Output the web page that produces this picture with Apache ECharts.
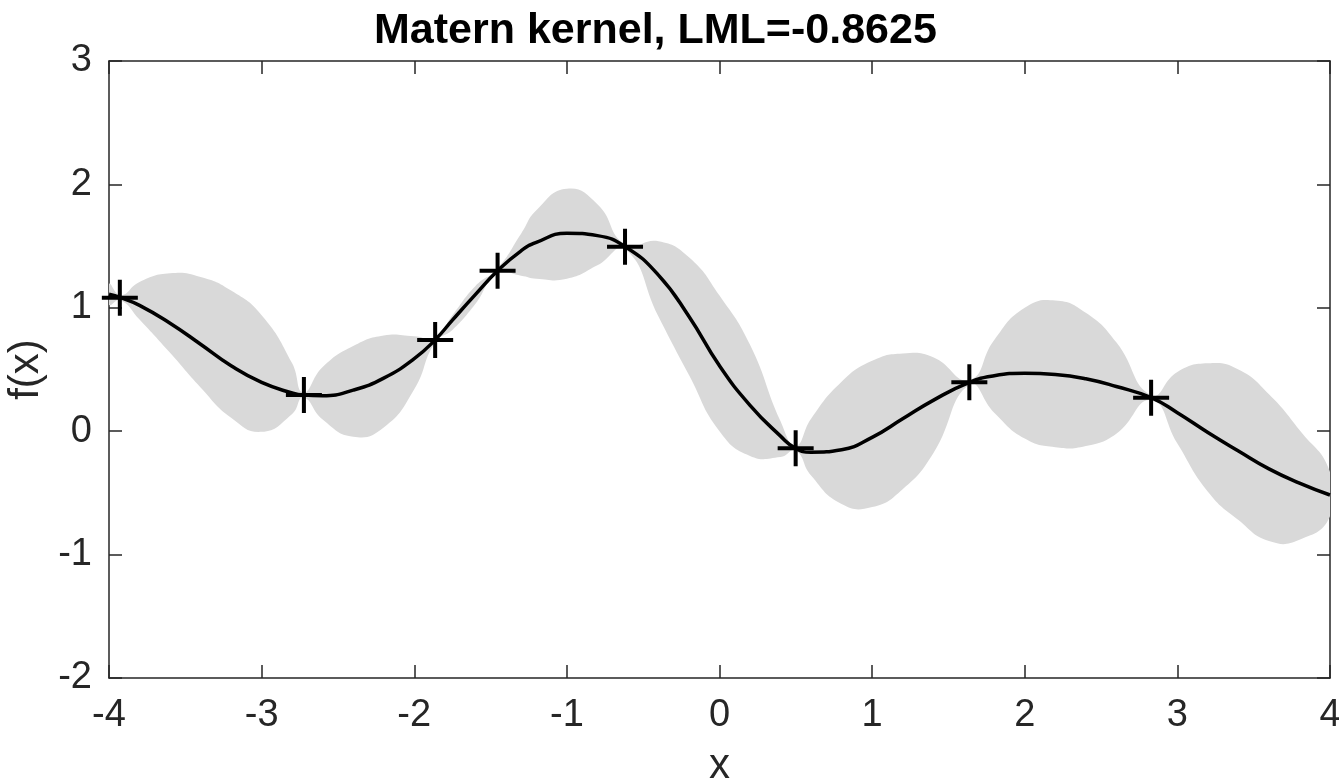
<!DOCTYPE html>
<html>
<head>
<meta charset="utf-8">
<script src="https://cdn.jsdelivr.net/npm/echarts@6/dist/echarts.min.js"></script>
<style>
  html, body { margin: 0; padding: 0; background: #fff; }
  #chart { width: 1339px; height: 778px; }
</style>
</head>
<body>
<div id="chart"></div>
<script>
// values
const xs = [-4.0, -3.924, -3.8, -3.6, -3.4, -3.2, -3.0, -2.8, -2.727, -2.6, -2.4, -2.2, -2.0, -1.864, -1.75, -1.6, -1.454, -1.3, -1.2, -1.0, -0.8, -0.617, -0.4, -0.2, 0.0, 0.2, 0.4, 0.499, 0.6, 0.8, 1.0, 1.2, 1.4, 1.637, 1.8, 2.0, 2.2, 2.4, 2.6, 2.828, 3.0, 3.2, 3.4, 3.6, 3.8, 4.0];
const meanF = [1.11, 1.082, 1.02, 0.875, 0.705, 0.53, 0.395, 0.31, 0.293, 0.288, 0.333, 0.43, 0.588, 0.739, 0.90, 1.107, 1.30, 1.462, 1.53, 1.605, 1.585, 1.495, 1.265, 0.93, 0.53, 0.21, -0.04, -0.139, -0.17, -0.15, -0.05, 0.10, 0.25, 0.396, 0.45, 0.47, 0.46, 0.425, 0.362, 0.272, 0.15, -0.01, -0.16, -0.305, -0.42, -0.517];
const lowerF = [1.025, 1.062, 0.905, 0.635, 0.355, 0.11, -0.005, 0.14, 0.273, 0.095, -0.045, 0.03, 0.34, 0.719, 0.82, 1.03, 1.28, 1.26, 1.235, 1.235, 1.344, 1.475, 0.93, 0.456, 0.0, -0.20, -0.21, -0.159, -0.36, -0.59, -0.615, -0.47, -0.18, 0.376, 0.15, -0.06, -0.13, -0.12, -0.02, 0.252, -0.10, -0.49, -0.72, -0.89, -0.88, -0.69];
const upperF = [1.195, 1.102, 1.21, 1.28, 1.25, 1.14, 0.94, 0.55, 0.313, 0.52, 0.69, 0.776, 0.77, 0.759, 0.94, 1.175, 1.32, 1.60, 1.79, 1.965, 1.84, 1.515, 1.54, 1.41, 1.10, 0.70, 0.08, -0.119, 0.10, 0.40, 0.57, 0.63, 0.60, 0.416, 0.74, 1.00, 1.06, 0.96, 0.72, 0.292, 0.48, 0.55, 0.50, 0.30, 0.01, -0.33];

// observed training points
const obsX = [-3.929, -2.723, -1.863, -1.454, -0.619, 0.499, 1.637, 2.828];
const obsY = [1.082, 0.293, 0.739, 1.30, 1.495, -0.139, 0.396, 0.272];

const xTicks = [-4, -3, -2, -1, 0, 1, 2, 3, 4];
const yTicks = [-2, -1, 0, 1, 2, 3];

const font = "'Liberation Sans', Arial, Helvetica, sans-serif";
const axisColor = '#262626';

const chart = echarts.init(document.getElementById('chart'));

const meanData = xs.map((x, i) => [x, meanF[i]]);
const obsData = obsX.map((x, i) => [x, obsY[i]]);

// plus marker, filled
const plus = 'path://M16,0H20V36H16Z M0,16H36V20H0Z';

// the confidence band as one smoothed polygon: upper edge left to right, lower edge back
function renderBand(params, api) {
  const top = xs.map((x, i) => api.coord([x, upperF[i]]));
  const bottom = xs.map((x, i) => api.coord([x, lowerF[i]])).reverse();
  const cs = params.coordSys;
  return {
    type: 'polygon',
    shape: { points: top.concat(bottom), smooth: 0.5 },
    style: { fill: '#d9d9d9', stroke: null },
    clipPath: { type: 'rect', shape: { x: cs.x, y: cs.y, width: cs.width, height: cs.height } },
    silent: true
  };
}

const axisCommon = {
  type: 'value',
  splitLine: { show: false },
  axisLine: { show: true, onZero: false, lineStyle: { color: axisColor, width: 1.5 } },
  axisTick: { show: true, inside: true, length: 13, lineStyle: { color: axisColor, width: 1.5 } }
};

const option = {
  animation: false,
  backgroundColor: '#fff',
  title: {
    text: 'Matern kernel, LML=-0.8625',
    left: 369,
    top: 5,
    textStyle: { fontFamily: font, fontSize: 43, fontWeight: 'bold', color: '#000' }
  },
  grid: { left: 109, right: 9, top: 61, bottom: 100, outerBoundsMode: 'none', containLabel: false },
  xAxis: [
    Object.assign({}, axisCommon, {
      position: 'bottom',
      min: -4, max: 4, interval: 1,
      name: 'x', nameLocation: 'middle', nameGap: 67,
      nameTextStyle: { fontFamily: font, fontSize: 42, color: axisColor },
      axisLabel: {
        margin: 19, fontFamily: font, fontSize: 38, color: axisColor,
        formatter: v => xTicks.includes(v) ? String(v) : ''
      }
    }),
    Object.assign({}, axisCommon, {
      position: 'top',
      min: -4, max: 4, interval: 1,
      axisLabel: { show: false }
    })
  ],
  yAxis: [
    Object.assign({}, axisCommon, {
      position: 'left',
      min: -2, max: 3, interval: 1,
      name: 'f(x)', nameLocation: 'middle', nameGap: 52,
      nameTextStyle: { fontFamily: font, fontSize: 42, color: axisColor },
      axisLabel: {
        margin: 17, fontFamily: font, fontSize: 38, color: axisColor,
        formatter: v => yTicks.includes(v) ? String(v) : ''
      }
    }),
    Object.assign({}, axisCommon, {
      position: 'right',
      min: -2, max: 3, interval: 1,
      axisLabel: { show: false }
    })
  ],
  series: [
    {
      type: 'custom',
      data: [[0, 0]],
      renderItem: renderBand,
      silent: true,
      z: 1
    },
    {
      type: 'line',
      data: meanData,
      symbol: 'none',
      smooth: 0.5,
      lineStyle: { color: '#000', width: 3.5 },
      z: 3
    },
    {
      type: 'scatter',
      data: obsData,
      symbol: plus,
      symbolSize: 36,
      itemStyle: { color: '#000', opacity: 1 },
      z: 4
    }
  ]
};

chart.setOption(option);
</script>
</body>
</html>
